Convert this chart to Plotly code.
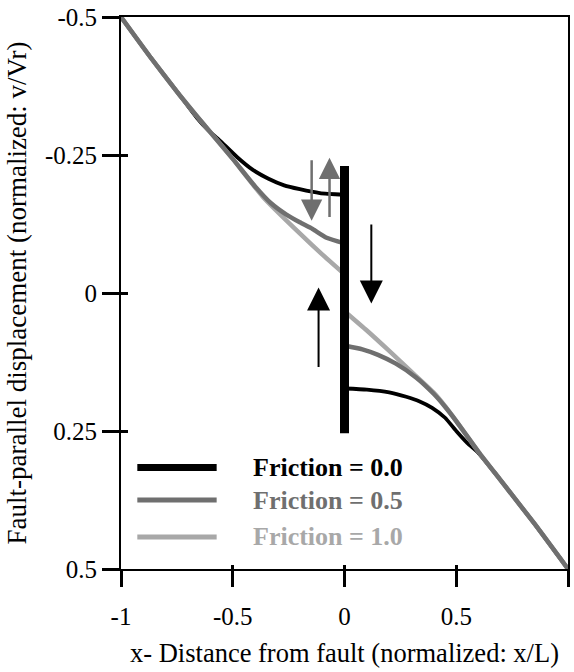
import plotly.graph_objects as go

# ---------------- data ----------------
x_tick_vals = [-1, -0.5, 0, 0.5, 1]
x_tick_text = ["-1", "-0.5", "0", "0.5", "1"]
y_tick_vals = [-0.5, -0.25, 0, 0.25, 0.5]
y_tick_text = ["-0.5", "-0.25", "0", "0.25", "0.5"]

series_names = ["Friction = 0.0", "Friction = 0.5", "Friction = 1.0"]
series_colors = ["#000000", "#6f6f6f", "#a8a8a8"]

# Friction = 0.0
f0_left_x = [-1, -0.87, -0.75, -0.66, -0.61, -0.56, -0.48, -0.41, -0.34, -0.27, -0.2, -0.11, 0]
f0_left_y = [-0.5, -0.428, -0.365, -0.317, -0.295, -0.277, -0.246, -0.223, -0.207, -0.195, -0.188, -0.181, -0.178]
f0_right_x = [0, 0.1, 0.2, 0.276, 0.334, 0.392, 0.45, 0.5, 0.55, 0.6, 0.7, 0.85, 1]
f0_right_y = [0.173, 0.175, 0.18, 0.188, 0.196, 0.208, 0.226, 0.25, 0.272, 0.29, 0.34, 0.418, 0.5]

# Friction = 0.5
f5_left_x = [-1, -0.87, -0.75, -0.635, -0.5, -0.4, -0.33, -0.26, -0.2, -0.143, -0.08, 0]
f5_left_y = [-0.5, -0.428, -0.365, -0.308, -0.243, -0.193, -0.163, -0.142, -0.128, -0.116, -0.1, -0.09]
f5_right_x = [0, 0.08, 0.15, 0.23, 0.32, 0.4, 0.45, 0.5, 0.6, 0.7, 0.85, 1]
f5_right_y = [0.095, 0.102, 0.112, 0.128, 0.153, 0.183, 0.206, 0.232, 0.288, 0.34, 0.418, 0.5]

# Friction = 1.0
f10_left_x = [-1, -0.87, -0.75, -0.635, -0.5, -0.367, -0.2, -0.1, 0]
f10_left_y = [-0.5, -0.428, -0.365, -0.308, -0.243, -0.175, -0.108, -0.07, -0.034]
f10_right_x = [0, 0.1, 0.2, 0.3, 0.4, 0.45, 0.5, 0.6, 0.7, 0.85, 1]
f10_right_y = [0.033, 0.068, 0.105, 0.143, 0.181, 0.205, 0.232, 0.288, 0.34, 0.418, 0.5]

# fault trace (x position, top, bottom)
fault_x = 0
fault_y = [-0.23, 0.254]

# slip arrows: (x, tail_y, tip_y)
gray_arrows = [(-0.147, -0.243, -0.131), (-0.067, -0.135, -0.245)]
black_arrows = [(0.12, -0.127, 0.019), (-0.116, 0.137, -0.01)]

FONT = "Liberation Serif, Times New Roman, DejaVu Serif, serif"

fig = go.Figure()

def joined(lx, ly, rx, ry):
    return lx + [None] + rx, ly + [None] + ry

curves = [
    (f0_left_x, f0_left_y, f0_right_x, f0_right_y, 0, 3.8),
    (f10_left_x, f10_left_y, f10_right_x, f10_right_y, 2, 4.5),
    (f5_left_x, f5_left_y, f5_right_x, f5_right_y, 1, 4.5),
]
for lx, ly, rx, ry, idx, w in curves:
    xs, ys = joined(lx, ly, rx, ry)
    fig.add_trace(go.Scatter(
        x=xs, y=ys, mode="lines", name=series_names[idx],
        line=dict(color=series_colors[idx], width=w, shape="spline", smoothing=0.5),
        connectgaps=False, showlegend=False, hoverinfo="skip",
    ))

# invisible trace for the overlay axes that draw the inward half of the ticks
fig.add_trace(go.Scatter(x=[0], y=[0], xaxis="x2", yaxis="y2", mode="markers",
                         marker=dict(opacity=0), showlegend=False, hoverinfo="skip"))

# fault
fig.add_shape(type="line", xref="x", yref="y", x0=fault_x, x1=fault_x,
              y0=fault_y[0], y1=fault_y[1], line=dict(color="black", width=9))

# arrows
for ax_, tail, tip in gray_arrows:
    fig.add_annotation(x=ax_, y=tip, ax=ax_, ay=tail, xref="x", yref="y", axref="x", ayref="y",
                       showarrow=True, arrowhead=2, arrowwidth=2.5, arrowsize=1.7,
                       arrowcolor="#6f6f6f", text="")
for ax_, tail, tip in black_arrows:
    fig.add_annotation(x=ax_, y=tip, ax=ax_, ay=tail, xref="x", yref="y", axref="x", ayref="y",
                       showarrow=True, arrowhead=2, arrowwidth=2, arrowsize=2.3,
                       arrowcolor="black", text="")

# custom legend
legend_rows_y = [0.316, 0.375, 0.442]
legend_widths = [7, 5, 5]
for i in range(3):
    fig.add_shape(type="line", xref="x", yref="y", x0=-0.927, x1=-0.572,
                  y0=legend_rows_y[i], y1=legend_rows_y[i],
                  line=dict(color=series_colors[i], width=legend_widths[i]))
    fig.add_annotation(x=-0.42, y=legend_rows_y[i], xref="x", yref="y",
                       text="<b>" + series_names[i] + "</b>", showarrow=False,
                       xanchor="left", yanchor="middle",
                       font=dict(family=FONT, size=26, color=series_colors[i]))

axis_common = dict(showgrid=False, zeroline=False)

fig.update_layout(
    width=574, height=672,
    margin=dict(l=121, r=4, t=16, b=103),
    plot_bgcolor="white", paper_bgcolor="white",
    font=dict(family=FONT, size=25, color="black"),
    xaxis=dict(
        range=[-1, 1], tickvals=x_tick_vals, ticktext=x_tick_text,
        ticks="outside", ticklen=16, tickwidth=3, tickcolor="black",
        showline=True, linecolor="black", linewidth=2, mirror=True,
        tickfont=dict(family=FONT, size=25), ticklabelstandoff=8,
        title=dict(text="x- Distance from fault (normalized: x/L)",
                   font=dict(family=FONT, size=26.5), standoff=14),
        **axis_common,
    ),
    yaxis=dict(
        range=[0.5, -0.5], tickvals=y_tick_vals, ticktext=y_tick_text,
        ticks="outside", ticklen=17, tickwidth=3, tickcolor="black",
        showline=True, linecolor="black", linewidth=2, mirror=True,
        tickfont=dict(family=FONT, size=25),
        title=dict(text="Fault-parallel displacement (normalized: v/Vr)",
                   font=dict(family=FONT, size=27), standoff=10),
        **axis_common,
    ),
    xaxis2=dict(range=[-1, 1], overlaying="x", anchor="y2", side="bottom",
                tickvals=x_tick_vals, ticks="inside", ticklen=4, tickwidth=3,
                tickcolor="black", showticklabels=False, showline=False, **axis_common),
    yaxis2=dict(range=[0.5, -0.5], overlaying="y", anchor="x2", side="left",
                tickvals=y_tick_vals, ticks="inside", ticklen=7, tickwidth=3,
                tickcolor="black", showticklabels=False, showline=False, **axis_common),
    showlegend=False,
)

fig.write_html("out.html")
